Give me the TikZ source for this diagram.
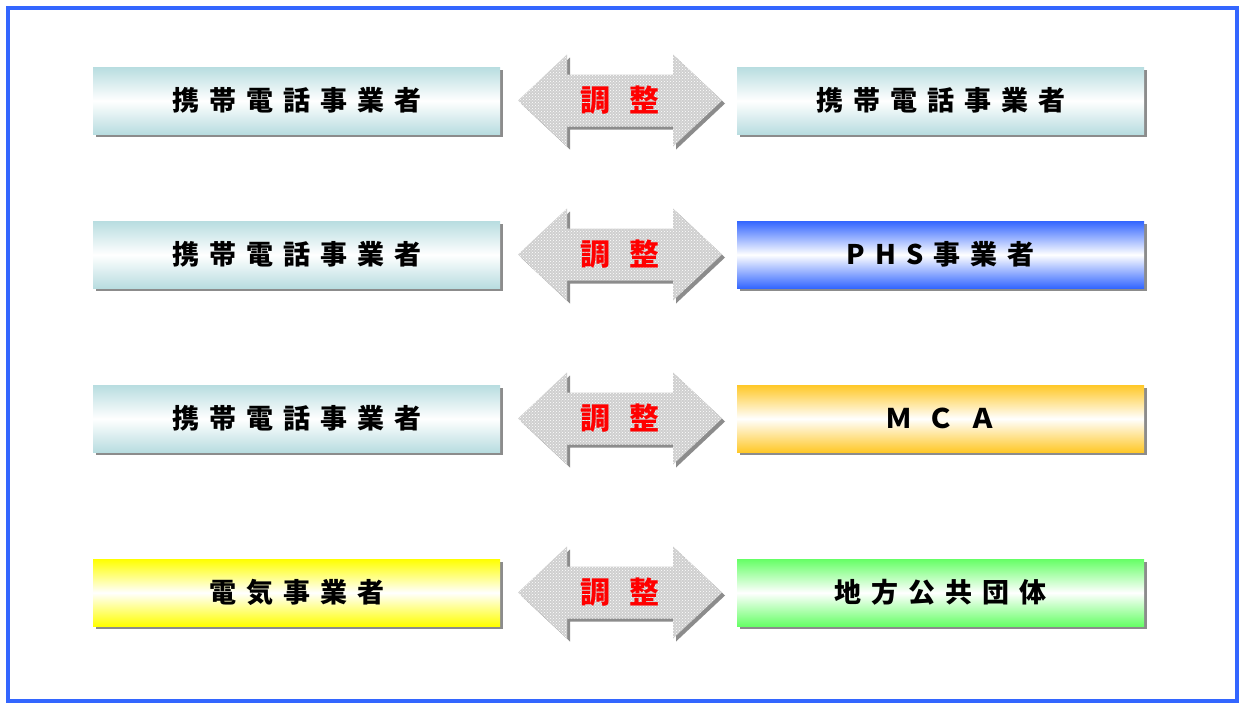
\documentclass[tikz,border=0pt]{standalone}
\usepackage{fontspec}
\newfontfamily\jp{Noto Sans CJK JP}
\usetikzlibrary{patterns,shadows,calc}
\definecolor{frameblue}{HTML}{3366FF}
\definecolor{tealc}{HTML}{B8DDE0}
\definecolor{bluec}{HTML}{3366FF}
\definecolor{orangec}{HTML}{FFC828}
\definecolor{yellowc}{HTML}{FFFF00}
\definecolor{greenc}{HTML}{66FF66}
\definecolor{shadowc}{HTML}{8C8C8C}
\definecolor{arrowc}{HTML}{CFCFCF}
\newcommand\gp{\kern10pt}
\tikzset{
  bar/.style={shade, top color=#1, bottom color=#1, middle color=white,
    minimum width=407pt, minimum height=67pt, inner sep=0pt, anchor=north west,
    font=\jp\bfseries\fontsize{27}{27}\selectfont, text=black,
    drop shadow={shadow xshift=3pt, shadow yshift=-3pt, fill=shadowc, opacity=1}},
  adjlabel/.style={font=\jp\bfseries\fontsize{30}{30}\selectfont, text=red, inner sep=0pt},
  arrowshadow/.style={fill=shadowc},
  arrowbody/.style={fill=arrowc},
  arrowdots/.style={pattern=crosshatch dots, pattern color=white}
}
\newcommand\adjarrow[2]{%
  \foreach \st/\dx in {arrowshadow/3, arrowbody/0, arrowdots/0}{
    \path[\st] ($(#1)+(\dx,\dx)+(-102,0)$) -- ++(49,-46) -- ++(0,20) -- ++(106,0) -- ++(0,-20)
      -- ++(49,46) -- ++(-49,46) -- ++(0,-20) -- ++(-106,0) -- ++(0,20) -- cycle;
  }
  \node[adjlabel] (#2) at (#1) {調\kern20pt 整};
}
\begin{document}
\begin{tikzpicture}[x=1pt,y=-1pt]
\useasboundingbox (0,0) rectangle (1242,704);
\fill[white] (0,0) rectangle (1242,704);
\draw[frameblue, line width=4pt] (8,8) rectangle (1237,701);

\node[bar=tealc] (l1) at (93,67) {携\gp 帯\gp 電\gp 話\gp 事\gp 業\gp 者};
\node[bar=tealc] (r1) at (737,67) {携\gp 帯\gp 電\gp 話\gp 事\gp 業\gp 者};
\node[bar=tealc] (l2) at (93,221) {携\gp 帯\gp 電\gp 話\gp 事\gp 業\gp 者};
\node[bar=bluec] (r2) at (737,221) {P\gp H\gp S\gp 事\gp 業\gp 者};
\node[bar=tealc] (l3) at (93,385) {携\gp 帯\gp 電\gp 話\gp 事\gp 業\gp 者};
\node[bar=orangec] (r3) at (737,385) {Ｍ\kern15pt Ｃ\kern15pt Ａ};
\node[bar=yellowc] (l4) at (93,559) {電\gp 気\gp 事\gp 業\gp 者};
\node[bar=greenc] (r4) at (737,559) {地\gp 方\gp 公\gp 共\gp 団\gp 体};

\coordinate (c1) at (620,100.5);
\coordinate (c2) at (620,254.5);
\coordinate (c3) at (620,418.5);
\coordinate (c4) at (620,592.5);
\adjarrow{c1}{a1}
\adjarrow{c2}{a2}
\adjarrow{c3}{a3}
\adjarrow{c4}{a4}
\end{tikzpicture}
\end{document}
